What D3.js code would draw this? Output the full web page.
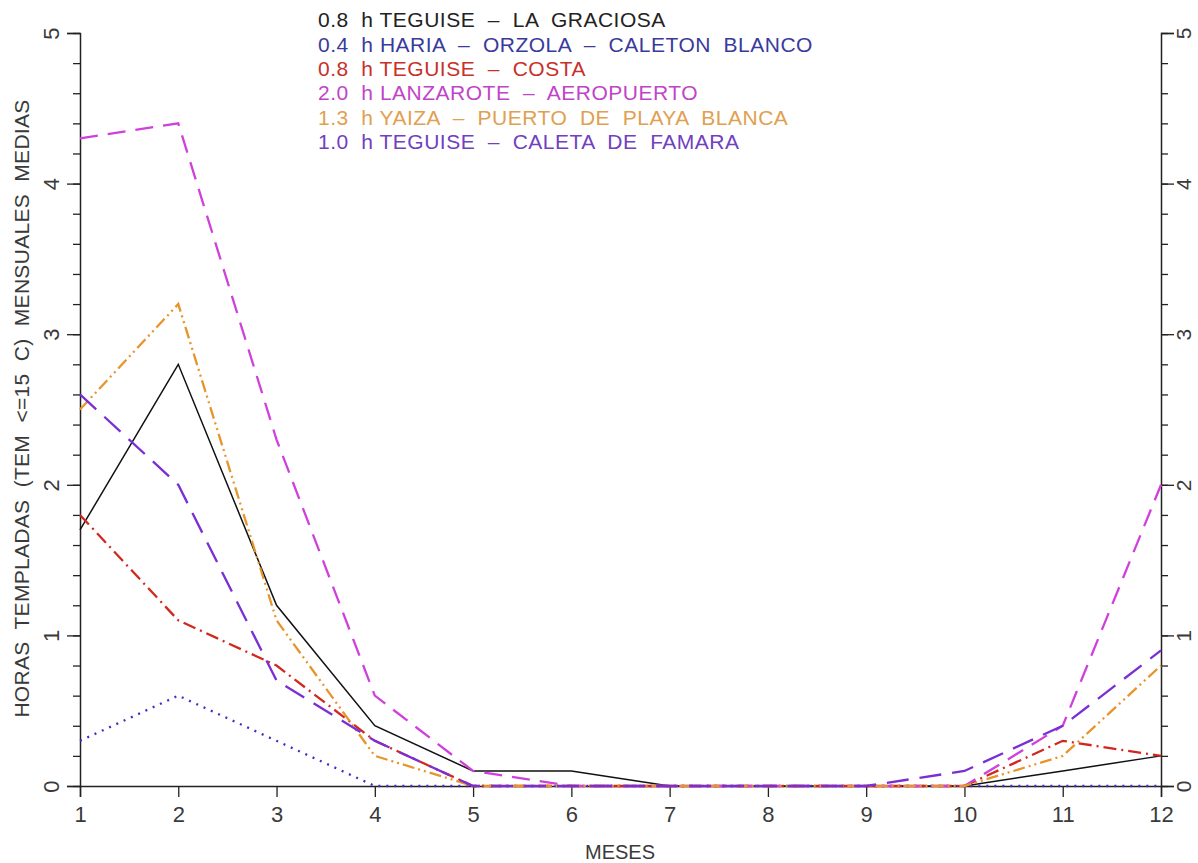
<!DOCTYPE html>
<html>
<head>
<meta charset="utf-8">
<script src="https://cdn.jsdelivr.net/npm/d3@7"></script>
<style>
  html, body { margin: 0; padding: 0; background: #fff; }
  svg { display: block; }
  text { font-family: "Liberation Sans", Arial, sans-serif; white-space: pre; }
</style>
</head>
<body>
<svg id="chart" width="1198" height="863"></svg>
<script>
// ---- data ----
const months = [1, 2, 3, 4, 5, 6, 7, 8, 9, 10, 11, 12];
const yTicks = [0, 1, 2, 3, 4, 5];
const seriesNames = [
  "0.8  h TEGUISE  \u2013  LA  GRACIOSA",
  "0.4  h HARIA  \u2013  ORZOLA  \u2013  CALETON  BLANCO",
  "0.8  h TEGUISE  \u2013  COSTA",
  "2.0  h LANZAROTE  \u2013  AEROPUERTO",
  "1.3  h YAIZA  \u2013  PUERTO  DE  PLAYA  BLANCA",
  "1.0  h TEGUISE  \u2013  CALETA  DE  FAMARA"
];
const laGraciosa   = [1.7, 2.8, 1.2, 0.4, 0.1, 0.1, 0.0, 0.0, 0.0, 0.0, 0.1, 0.2];
const haria        = [0.3, 0.6, 0.3, 0.0, 0.0, 0.0, 0.0, 0.0, 0.0, 0.0, 0.0, 0.0];
const costa        = [1.8, 1.1, 0.8, 0.3, 0.0, 0.0, 0.0, 0.0, 0.0, 0.0, 0.3, 0.2];
const aeropuerto   = [4.3, 4.4, 2.3, 0.6, 0.1, 0.0, 0.0, 0.0, 0.0, 0.0, 0.4, 2.0];
const playaBlanca  = [2.5, 3.2, 1.1, 0.2, 0.0, 0.0, 0.0, 0.0, 0.0, 0.0, 0.2, 0.8];
const famara       = [2.6, 2.0, 0.7, 0.3, 0.0, 0.0, 0.0, 0.0, 0.0, 0.1, 0.4, 0.9];
const seriesValues = [laGraciosa, haria, costa, aeropuerto, playaBlanca, famara];

// ---- styles ----
const lineStyles = [
  { stroke: "#111111", width: 1.5, dash: null,            text: "#222222" },
  { stroke: "#3b2fc0", width: 2.3, dash: "2,6",           text: "#3a3a9c" },
  { stroke: "#d0281e", width: 2.3, dash: "13,5,2,5",      text: "#c8302a" },
  { stroke: "#d040dc", width: 2.3, dash: "18,10",         text: "#c044c8" },
  { stroke: "#e8942a", width: 2.3, dash: "12,4,2,4,2,4",  text: "#e0a050" },
  { stroke: "#7a2ed4", width: 2.3, dash: "22,11",         text: "#7040c0" }
];

const svg = d3.select("#chart");
const x = d3.scaleLinear().domain([1, 12]).range([80, 1161]);
const y = d3.scaleLinear().domain([0, 5]).range([786, 33]);

const minorTicks = d3.range(0, 5.0001, 0.2).map(v => +v.toFixed(1));

// left axis
const gl = svg.append("g").attr("transform", `translate(${x(1)},0)`)
  .call(d3.axisLeft(y).tickValues(minorTicks).tickSize(7).tickFormat(""));
const glMajor = svg.append("g").attr("transform", `translate(${x(1)},0)`)
  .call(d3.axisLeft(y).tickValues(yTicks).tickSize(13).tickFormat(d3.format("d")).tickPadding(18));
// right axis
const gr = svg.append("g").attr("transform", `translate(${x(12)},0)`)
  .call(d3.axisRight(y).tickValues(minorTicks).tickSize(7).tickFormat(""));
const grMajor = svg.append("g").attr("transform", `translate(${x(12)},0)`)
  .call(d3.axisRight(y).tickValues(yTicks).tickSize(13).tickFormat(d3.format("d")).tickPadding(16));
// bottom axis
const gb = svg.append("g").attr("transform", `translate(0,${y(0)})`)
  .call(d3.axisBottom(x).tickValues(months).tickSize(11).tickFormat(d3.format("d")).tickPadding(6));

[gl, glMajor, gr, grMajor, gb].forEach(g => {
  g.select(".domain").attr("stroke", "#222").attr("stroke-width", 1.5);
  g.selectAll(".tick line").attr("stroke", "#222").attr("stroke-width", 1.3);
  g.selectAll("text").attr("font-size", 22).attr("fill", "#3a3a3a")
    .attr("font-family", "'Liberation Sans', Arial, sans-serif");
});
gl.select(".domain").remove();
gr.select(".domain").remove();

// rotate y tick labels (reading upward)
glMajor.selectAll(".tick text")
  .attr("x", null).attr("dy", null)
  .attr("text-anchor", "middle")
  .attr("transform", "translate(-29,0) rotate(-90)")
  .attr("dy", "0.35em");
grMajor.selectAll(".tick text")
  .attr("x", null).attr("dy", null)
  .attr("font-size", 21)
  .attr("text-anchor", "middle")
  .attr("transform", "translate(23,0) rotate(-90)")
  .attr("dy", "0.35em");
gb.selectAll(".tick text").attr("dy", "0.85em");

// lines
const line = d3.line().x((d, i) => x(months[i])).y(d => y(d));
seriesValues.forEach((vals, k) => {
  const st = lineStyles[k];
  svg.append("path")
    .datum(vals)
    .attr("fill", "none")
    .attr("stroke", st.stroke)
    .attr("stroke-width", st.width)
    .attr("stroke-dasharray", st.dash)
    .attr("stroke-linejoin", "miter")
    .attr("d", line);
});

// legend
const legend = svg.append("g");
seriesNames.forEach((name, k) => {
  legend.append("text")
    .attr("x", 318)
    .attr("y", 20 + k * 24.3)
    .attr("dy", "0.35em")
    .attr("font-size", 21)
    .attr("letter-spacing", 0.5)
    .attr("fill", lineStyles[k].text)
    .text(name);
});

// axis titles
svg.append("text")
  .attr("transform", `translate(22,${(95 + 722) / 2}) rotate(-90)`)
  .attr("text-anchor", "middle")
  .attr("dy", "0.35em")
  .attr("font-size", 21)
  .attr("letter-spacing", 0.3)
  .attr("fill", "#3a3a3a")
  .text("HORAS  TEMPLADAS  (TEM  <=15  C)  MENSUALES  MEDIAS");

svg.append("text")
  .attr("x", 620)
  .attr("y", 852)
  .attr("text-anchor", "middle")
  .attr("dy", "0.35em")
  .attr("font-size", 20)
  .attr("fill", "#3a3a3a")
  .text("MESES");
</script>
</body>
</html>
